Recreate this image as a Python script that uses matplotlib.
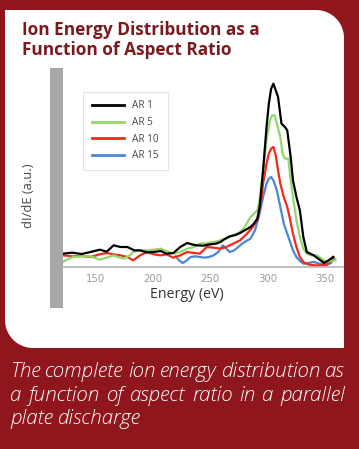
import numpy as np
import matplotlib
matplotlib.use("Agg")
import matplotlib.pyplot as plt
from matplotlib.path import Path
from matplotlib.patches import PathPatch, Rectangle

# series (energy in eV, signal in a.u.)
e_ar1 = [122, 130, 138, 146, 154, 160, 166, 172, 178, 184, 189, 195, 201, 207, 212, 218, 224, 230, 234, 238,
         244, 250, 255, 259, 263, 267, 272, 276, 280, 285, 288, 291, 293, 296, 299, 301, 303, 305, 307, 309,
         312, 315, 317, 320, 322, 325, 328, 331, 334, 337, 340, 344, 349, 353, 357]
v_ar1 = [4.0, 4.3, 3.9, 4.5, 5.2, 4.6, 6.5, 6.0, 6.0, 5.0, 5.0, 4.4, 4.5, 4.8, 4.0, 4.2, 6.0, 7.2, 6.8, 6.5,
         6.4, 6.8, 7.0, 7.5, 8.5, 9.2, 9.6, 10.2, 11.0, 12.0, 13.0, 14.5, 18, 29, 42, 49, 53.5, 55, 53, 51,
         43, 42, 41, 33, 26, 21, 17, 9, 4.5, 4.0, 3.5, 2.5, 1.2, 2.0, 3.0]

e_ar5 = [122, 127, 131, 138, 146, 154, 160, 166, 170, 175, 180, 183, 189, 195, 201, 207, 212, 218, 224, 230,
         236, 241, 247, 253, 259, 264, 270, 276, 280, 285, 288, 291, 293, 296, 299, 302, 304, 306, 308, 311,
         313, 315, 318, 320, 322, 325, 328, 331, 334, 338, 343, 347, 351, 355, 359]
v_ar5 = [1.5, 2.5, 3.0, 3.2, 3.2, 2.2, 2.8, 3.5, 3.0, 2.5, 3.5, 4.5, 5.0, 5.0, 5.2, 5.5, 4.8, 4.0, 4.5, 5.5,
         6.0, 7.0, 7.2, 7.5, 8.0, 8.5, 9.5, 10.5, 12.0, 15.0, 16.0, 17.0, 20, 29, 38, 44, 45.5, 45.5, 43, 39,
         34, 32.5, 32.5, 26, 21, 14, 9, 5.5, 4.0, 3.5, 3.5, 2.5, 1.5, 1.8, 2.0]

e_ar10 = [122, 130, 138, 146, 154, 160, 166, 172, 178, 183, 189, 195, 201, 207, 212, 218, 224, 230, 236, 241,
          247, 253, 259, 264, 270, 276, 282, 287, 291, 294, 296, 299, 301, 303, 305, 307, 309, 311, 314, 317,
          319, 322, 325, 328, 331, 335, 340, 345, 350, 354, 357]
v_ar10 = [3.5, 3.2, 3.3, 3.0, 3.8, 4.2, 3.8, 3.5, 3.0, 2.0, 3.5, 4.5, 3.8, 3.5, 3.8, 2.8, 3.5, 4.5, 4.2, 4.0,
          6.0, 5.8, 5.5, 6.0, 7.0, 8.0, 10.0, 12.0, 14.0, 19, 25, 31, 34, 35.5, 36, 33.5, 29, 25, 21, 18,
          15, 10, 6, 3, 1.5, 0.8, 0.5, 0.5, 0.5, 1.5, 3.0]

e_ar15 = [220, 223, 226, 229, 233, 237, 241, 245, 249, 253, 257, 261, 264, 267, 271, 276, 280, 285, 289, 293,
          296, 299, 301, 303, 305, 308, 311, 314, 317, 319, 322, 325, 328, 331, 335, 340, 345, 351, 355, 358]
v_ar15 = [3.2, 2.0, 1.2, 1.8, 3.0, 3.2, 3.0, 2.8, 3.0, 3.5, 4.5, 6.5, 5.5, 4.5, 5.0, 6.5, 7.5, 8.5, 11, 16,
          21, 25, 26.5, 27, 26, 23, 18, 13, 10, 8, 5, 3, 1.8, 1.0, 1.2, 1.5, 1.0, 0.5, 1.2, 2.5]

labels = ["AR 1", "AR 5", "AR 10", "AR 15"]
colors = ["#000000", "#93d66a", "#f5291b", "#4b87d4"]
xticks = [150, 200, 250, 300, 350]

caption = ["The complete ion energy distribution as",
           "a function of aspect ratio in a parallel",
           "plate discharge"]

FONT = ["Open Sans", "DejaVu Sans"]
W, H = 359, 449
bg = "#8e161c"
fig = plt.figure(figsize=(W / 100, H / 100), dpi=100, facecolor=bg)

# decoration layer in pixel coordinates
deco = fig.add_axes([0, 0, 1, 1])
deco.set_xlim(0, W)
deco.set_ylim(H, 0)
deco.axis("off")

# white card, rounded top-right and bottom-left
x0, x1, y0, y1, r = 5, 344, 10, 348, 28
t = np.linspace(0, np.pi / 2, 20)
pts = [(x0, y0), (x1 - r, y0)]
pts += [(x1 - r + r * np.sin(a), y0 + r - r * np.cos(a)) for a in t]
pts += [(x1, y1), (x0 + r, y1)]
pts += [(x0 + r - r * np.sin(a), y1 - r + r * np.cos(a)) for a in t]
pts += [(x0, y0)]
deco.add_patch(PathPatch(Path(pts), facecolor="white", edgecolor="none"))
deco.add_patch(Rectangle((50, 68), 13, 240, facecolor="#a7a7a7", edgecolor="none"))

deco.text(22, 35, "Ion Energy Distribution as a", fontsize=12.4, fontweight="bold", family=FONT,
          color="#7a1a1e", va="baseline", ha="left")
deco.text(22, 55, "Function of Aspect Ratio", fontsize=12.4, fontweight="bold", family=FONT,
          color="#7a1a1e", va="baseline", ha="left")
deco.text(29, 196, "dI/dE (a.u.)", rotation=90, fontsize=9.3, color="#444444",
          family=FONT, ha="center", va="center")

# justified caption
renderer = fig.canvas.get_renderer()
cap_kw = dict(fontsize=14.8, style="italic", fontweight="light", color="white", family=FONT,
              va="baseline", ha="left")
baselines = [377, 401, 424]
left, right = 10, 345
probe = deco.text(0, 0, "a a", **cap_kw)
probe2 = deco.text(0, 0, "aa", **cap_kw)
space_w = probe.get_window_extent(renderer).width - probe2.get_window_extent(renderer).width
probe.remove()
probe2.remove()
for i, line in enumerate(caption):
    words = line.split()
    arts = [deco.text(left, baselines[i], w, **cap_kw) for w in words]
    widths = [a.get_window_extent(renderer).width for a in arts]
    gap = space_w
    if i < len(caption) - 1 and len(words) > 1:
        gap = (right - left - sum(widths)) / (len(words) - 1)
    xpos = left
    for a, w in zip(arts, widths):
        a.set_x(xpos)
        xpos += w + gap

# chart
ax = fig.add_axes([63 / W, 1 - 267 / H, 280 / W, 195 / H])
ax.patch.set_alpha(0)
series = [(e_ar1, v_ar1), (e_ar5, v_ar5), (e_ar10, v_ar10), (e_ar15, v_ar15)]
lines = {}
for k in [3, 2, 1, 0]:
    e, v = series[k]
    lines[k], = ax.plot(e, v, color=colors[k], lw=1.6, solid_joinstyle="round", label=labels[k])
ax.set_xlim(122, 365.5)
ax.set_ylim(0, 58.5)
ax.set_xticks(xticks)
ax.set_yticks([])
ax.tick_params(axis="x", length=0, pad=5, labelsize=7.3, labelcolor="#9a9a9a")
for s in ["top", "right", "left"]:
    ax.spines[s].set_visible(False)
ax.spines["bottom"].set_color("#b5b5b5")
ax.spines["bottom"].set_linewidth(1.2)
ax.set_xlabel("Energy (eV)", fontsize=10.2, color="#333333", family=FONT, labelpad=3)
ax.xaxis.set_label_coords((187 - 63) / 280, -0.105)

leg = ax.legend([lines[k] for k in range(4)], labels, loc="upper left", bbox_to_anchor=(0.071, 0.9),
                borderaxespad=0, frameon=True, fancybox=False, handlelength=3.2, handletextpad=0.8,
                labelspacing=0.55, borderpad=0.9, labelcolor="#4a4a4a",
                prop={"size": 7.2, "family": FONT})
leg.get_frame().set_edgecolor("#dddddd")
leg.get_frame().set_linewidth(0.8)
for h in leg.get_lines():
    h.set_linewidth(2.0)

fig.savefig("out.png", dpi=100, facecolor=bg)
